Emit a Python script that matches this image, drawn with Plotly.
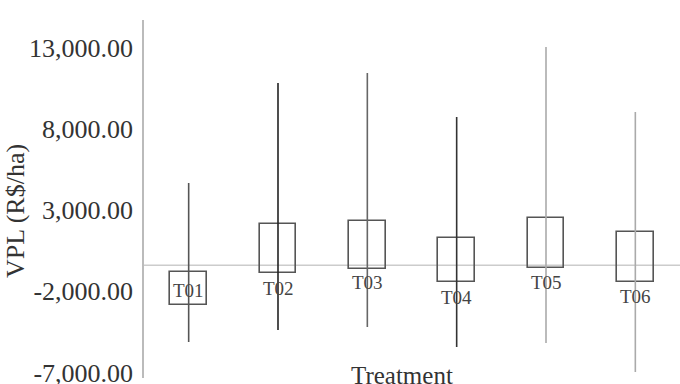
import plotly.graph_objects as go

treatments = ["T01", "T02", "T03", "T04", "T05", "T06"]
box_high = [-815, 2138, 2323, 1277, 2508, 1646]
box_low = [-2846, -877, -631, -1431, -569, -1431]
whisk_high = [4662, 10815, 11431, 8723, 13031, 9031]
whisk_low = [-5123, -4385, -4200, -5431, -5185, -6969]
ref_value = -400
tick_vals = [13000, 8000, 3000, -2000, -7000]
tick_text = ["13,000.00", "8,000.00", "3,000.00", "-2,000.00", "-7,000.00"]

whisk_colors = ["#555555", "#222222", "#666666", "#333333", "#aaaaaa", "#aaaaaa"]
label_y = [-1923, -1800, -1431, -2354, -1431, -2292]

SERIF = "Liberation Serif, Times New Roman, serif"

W, H = 680, 384
L, R, T, B = 144, 0, 20, 6
pw, ph = W - L - R, H - T - B

fig = go.Figure()
fig.add_trace(go.Bar(
    x=treatments,
    y=[h - l for h, l in zip(box_high, box_low)],
    base=box_low,
    width=0.41,
    marker=dict(color="rgba(255,255,255,0)", line=dict(color="#555555", width=1.6)),
    showlegend=False, hoverinfo="skip",
))
for t, lo, hi, c in zip(treatments, whisk_low, whisk_high, whisk_colors):
    fig.add_trace(go.Scatter(
        x=[t, t], y=[lo, hi], mode="lines",
        line=dict(color=c, width=1.6), showlegend=False, hoverinfo="skip",
    ))

for t, ly in zip(treatments, label_y):
    fig.add_annotation(x=t, y=ly, xref="x", yref="y", text=t, showarrow=False,
                       font=dict(family=SERIF, size=19, color="#444444"))

fig.add_shape(type="line", xref="paper", yref="y", x0=0, x1=1, y0=ref_value, y1=ref_value,
              line=dict(color="#cccccc", width=1.5), layer="below")

fig.add_annotation(x=(402 - L) / pw, y=(H - B - 375) / ph, xref="paper", yref="paper",
                   xanchor="center", yanchor="middle", text="Treatment", showarrow=False,
                   font=dict(family=SERIF, size=25, color="#333333"))
fig.add_annotation(x=(15 - L) / pw, y=(H - B - 211) / ph, xref="paper", yref="paper",
                   xanchor="center", yanchor="middle", text="VPL (R$/ha)", textangle=-90,
                   showarrow=False, font=dict(family=SERIF, size=26, color="#333333"))

fig.update_layout(
    width=W, height=H,
    margin=dict(l=L, r=R, t=T, b=B, autoexpand=False),
    plot_bgcolor="white", paper_bgcolor="white",
    bargap=0,
    xaxis=dict(type="category", range=[-0.5, 5.5], showticklabels=False, showgrid=False,
               zeroline=False, showline=False, ticks="", automargin=False),
    yaxis=dict(range=[-7338, 14692], tickvals=tick_vals, ticktext=tick_text,
               showgrid=False, zeroline=False, showline=True, linecolor="#bbbbbb", linewidth=1.5,
               ticks="", ticklabelstandoff=4, ticklabeloverflow="allow", automargin=False,
               tickfont=dict(family=SERIF, size=26, color="#333333")),
)

fig.write_html("out.html")
